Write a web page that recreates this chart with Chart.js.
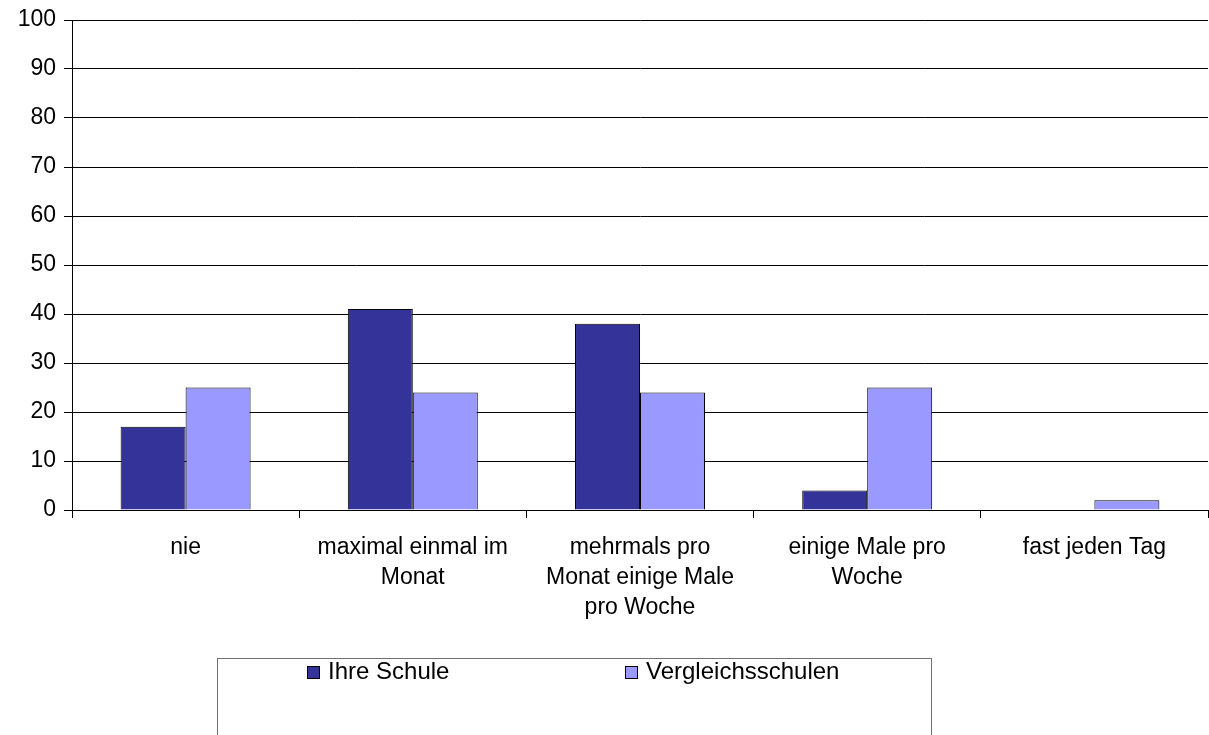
<!DOCTYPE html>
<html>
<head>
<meta charset="utf-8">
<script src="https://cdn.jsdelivr.net/npm/chart.js@4/dist/chart.umd.min.js"></script>
<style>
  html, body { margin: 0; padding: 0; background: #fff; }
  canvas { display: block; }
</style>
</head>
<body>
<canvas id="c" width="1209" height="735"></canvas>
<script>
const categories = [
  'nie',
  ['maximal einmal im', 'Monat'],
  ['mehrmals pro', 'Monat einige Male', 'pro Woche'],
  ['einige Male pro', 'Woche'],
  'fast jeden Tag'
];
const ihreSchule = [17, 41, 38, 4, 0];
const vergleichsschulen = [25, 24, 24, 25, 2];
const yTicks = [0, 10, 20, 30, 40, 50, 60, 70, 80, 90, 100];

const FONT = '"Liberation Sans", Arial, sans-serif';

// Boxed legend below the plot, built from the dataset labels and colours
const boxedLegend = {
  id: 'boxedLegend',
  afterDraw(chart) {
    const ctx = chart.ctx;
    ctx.save();
    ctx.strokeStyle = '#707070';
    ctx.lineWidth = 1;
    ctx.strokeRect(217.5, 658.5, 714, 90);
    const xs = [307, 625];
    ctx.font = '24px ' + FONT;
    ctx.textBaseline = 'middle';
    ctx.textAlign = 'left';
    chart.data.datasets.forEach((ds, i) => {
      const x = xs[i];
      ctx.fillStyle = ds.backgroundColor;
      ctx.fillRect(x, 666, 13, 13);
      ctx.strokeStyle = '#000';
      ctx.strokeRect(x + 0.5, 666.5, 12, 12);
      ctx.fillStyle = '#000';
      ctx.fillText(ds.label, x + 21, 672);
    });
    ctx.restore();
  }
};

new Chart(document.getElementById('c'), {
  type: 'bar',
  data: {
    labels: categories,
    datasets: [
      {
        label: 'Ihre Schule',
        data: ihreSchule,
        backgroundColor: '#333399',
        borderColor: '#000000',
        borderWidth: 1,
        categoryPercentage: 0.572,
        barPercentage: 1.0
      },
      {
        label: 'Vergleichsschulen',
        data: vergleichsschulen,
        backgroundColor: '#9999FF',
        borderColor: '#000000',
        borderWidth: 1,
        categoryPercentage: 0.572,
        barPercentage: 1.0
      }
    ]
  },
  options: {
    responsive: false,
    animation: false,
    layout: { padding: { top: 20, right: 1, left: 0, bottom: 0 } },
    plugins: {
      legend: { display: false },
      tooltip: { enabled: false }
    },
    scales: {
      x: {
        afterFit(scale) { scale.height = 225; },
        grid: {
          offset: true,
          drawOnChartArea: false,
          drawTicks: true,
          tickLength: 8,
          color: '#000'
        },
        border: { color: '#000', width: 1 },
        ticks: {
          autoSkip: false,
          maxRotation: 0,
          minRotation: 0,
          padding: 15,
          color: '#000',
          font: { family: FONT, size: 23, lineHeight: 1.3 }
        }
      },
      y: {
        min: 0,
        max: 100,
        afterFit(scale) {
          scale.width = 72;
          scale.paddingTop = 0;
          scale.paddingBottom = 0;
        },
        afterBuildTicks(scale) { scale.ticks = yTicks.map(v => ({ value: v })); },
        grid: {
          color: '#000',
          tickLength: 8,
          drawTicks: true
        },
        border: { color: '#000', width: 1 },
        ticks: {
          padding: 8,
          color: '#000',
          font: { family: FONT, size: 23, lineHeight: 1.3 }
        }
      }
    }
  },
  plugins: [boxedLegend]
});
</script>
</body>
</html>
